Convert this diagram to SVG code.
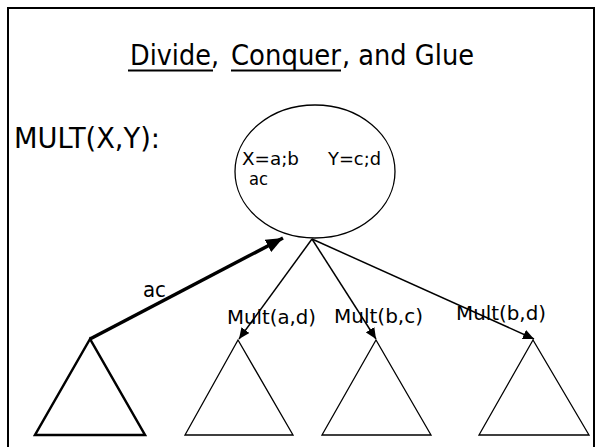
<svg xmlns="http://www.w3.org/2000/svg" width="596" height="447" viewBox="0 0 596 447">
<style>
text{font-family:"DejaVu Sans","Liberation Sans",sans-serif;fill:#000}
.title{font-size:28px}
.lbl{font-size:20px}
.thin{stroke:#000;stroke-width:1.5;fill:none}
.tri{stroke:#000;stroke-width:1.3;fill:#fff}
</style>
<defs>
<marker id="ah" markerUnits="userSpaceOnUse" markerWidth="12" markerHeight="10" refX="11" refY="5" orient="auto">
<path d="M0,0 L11,5 L0,10 z" fill="#000"/>
</marker>
<marker id="ahb" markerUnits="userSpaceOnUse" markerWidth="18" markerHeight="14" refX="17" refY="7" orient="auto">
<path d="M0,0 L17,7 L0,14 z" fill="#000"/>
</marker>
</defs>
<rect x="8" y="8" width="586" height="445" fill="#fff" stroke="#000" stroke-width="2"/>
<g id="title">
<text class="title" y="65"><tspan x="130" textLength="89" lengthAdjust="spacingAndGlyphs">Divide,</tspan><tspan x="231" textLength="110" lengthAdjust="spacingAndGlyphs">Conquer</tspan><tspan x="342" textLength="132" lengthAdjust="spacingAndGlyphs">, and Glue</tspan></text>
<line x1="128" y1="70.5" x2="213" y2="70.5" stroke="#000" stroke-width="2"/>
<line x1="231" y1="70.5" x2="341" y2="70.5" stroke="#000" stroke-width="2"/>
</g>
<g id="mult-label">
<text class="title" x="14" y="148" textLength="146" lengthAdjust="spacingAndGlyphs">MULT(X,Y):</text>
</g>
<g id="root">
<ellipse cx="315" cy="171.5" rx="80" ry="66.5" fill="#fff" stroke="#000" stroke-width="1.3"/>
<text font-size="18"><tspan x="242" y="165" textLength="57" lengthAdjust="spacingAndGlyphs">X=a;b</tspan><tspan x="328" y="165" textLength="53" lengthAdjust="spacingAndGlyphs">Y=c;d</tspan><tspan x="249" y="185" textLength="19" lengthAdjust="spacingAndGlyphs">ac</tspan></text>
</g>
<g id="t1"><polygon points="90,339 35,435 145,435" fill="#fff" stroke="#000" stroke-width="2.5" stroke-linejoin="miter"/></g>
<g id="t2"><polygon class="tri" points="238,340 185,435 293,435"/></g>
<g id="t3"><polygon class="tri" points="376,340 322,435 431,435"/></g>
<g id="t4"><polygon class="tri" points="533,340 479,435 589,435"/></g>
<g id="connectors">
<line x1="90" y1="339" x2="283" y2="238" stroke="#000" stroke-width="3.5" marker-end="url(#ahb)"/>
<line class="thin" x1="312" y1="239" x2="239" y2="339" marker-end="url(#ah)"/>
<line class="thin" x1="312" y1="239" x2="376" y2="339" marker-end="url(#ah)"/>
<line class="thin" x1="312" y1="239" x2="534" y2="339" marker-end="url(#ah)"/>
<text x="143" y="297" font-size="22" textLength="23" lengthAdjust="spacingAndGlyphs">ac</text>
<text class="lbl" x="227" y="324" textLength="89" lengthAdjust="spacingAndGlyphs">Mult(a,d)</text>
<text class="lbl" x="334" y="323" textLength="89" lengthAdjust="spacingAndGlyphs">Mult(b,c)</text>
<text class="lbl" x="456" y="320" textLength="90" lengthAdjust="spacingAndGlyphs">Mult(b,d)</text>
</g>
</svg>
